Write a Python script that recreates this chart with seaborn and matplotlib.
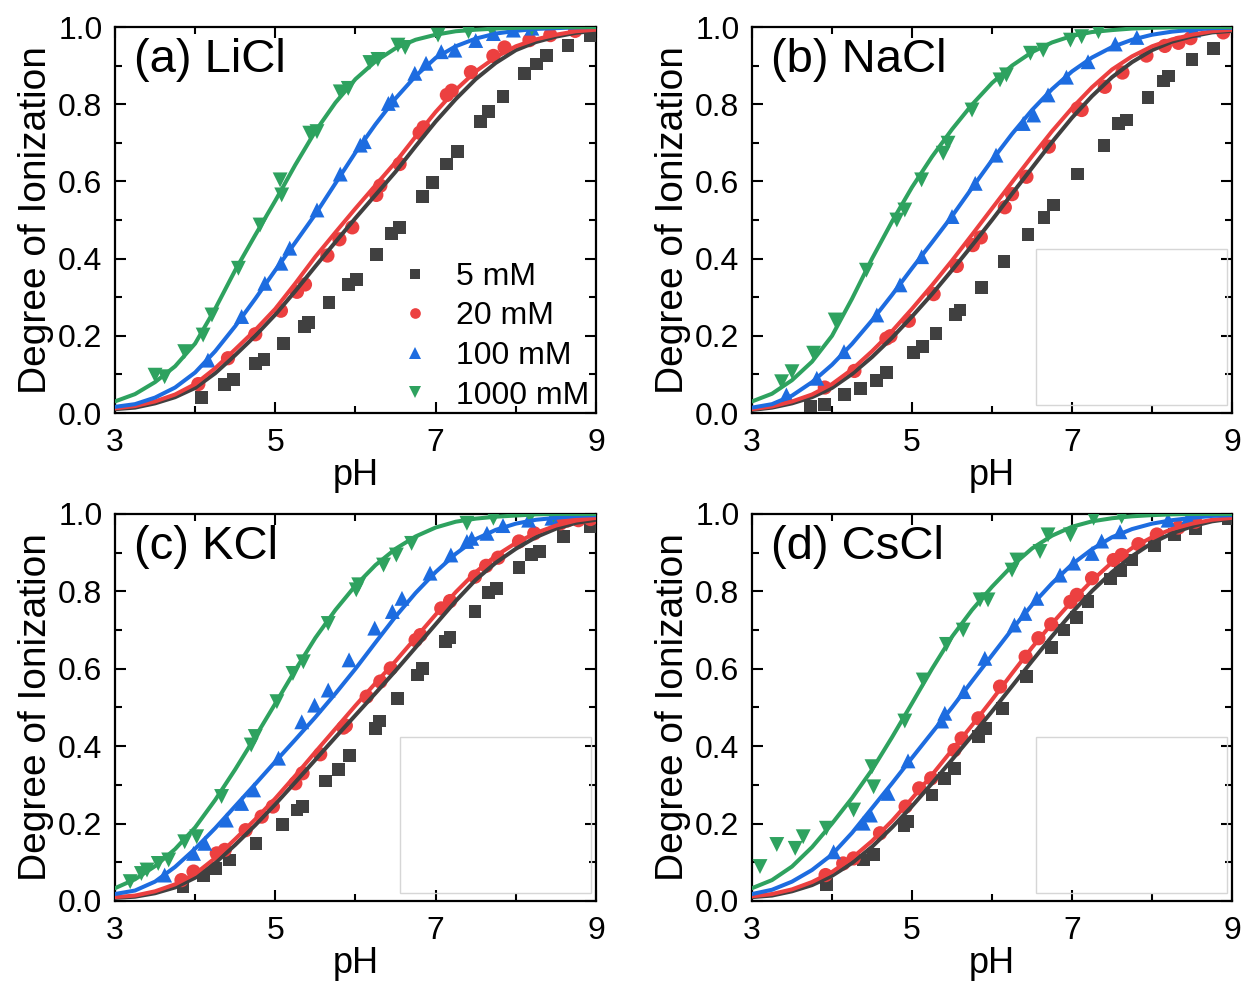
import numpy as np
import pandas as pd
import seaborn as sns
from matplotlib import pyplot as plt
from matplotlib.patches import Rectangle
from matplotlib.ticker import FixedLocator, MultipleLocator, FormatStrFormatter


CONCS = ['5 mM', '20 mM', '100 mM', '1000 mM']
COLORS = {'5 mM': '#404040', '20 mM': '#ec4040', '100 mM': '#1d6ce0', '1000 mM': '#2ea25f'}
MARKERS = {'5 mM': 's', '20 mM': 'o', '100 mM': '^', '1000 mM': 'v'}
SIZES = {'5 mM': 85, '20 mM': 105, '100 mM': 115, '1000 mM': 115}

SALTS = ['(a) LiCl', '(b) NaCl', '(c) KCl', '(d) CsCl']

# pH grid for the fitted curves
FIT_PH = [3.0, 3.25, 3.5, 3.75, 4.0, 4.25, 4.5, 4.75, 5.0, 5.25, 5.5, 5.75, 6.0,
          6.25, 6.5, 6.75, 7.0, 7.25, 7.5, 7.75, 8.0, 8.25, 8.5, 8.75, 9.0]

# ---- (a) LiCl ----
a5_ph = [4.08, 4.37, 4.48, 4.75, 4.86, 5.10, 5.36, 5.41, 5.67, 5.91, 6.01, 6.26, 6.45, 6.55, 6.84, 6.96, 7.14, 7.27, 7.56, 7.66, 7.84, 8.11, 8.26, 8.38, 8.65, 8.93]
a5_y = [0.04, 0.073, 0.087, 0.129, 0.139, 0.18, 0.225, 0.234, 0.287, 0.333, 0.346, 0.411, 0.465, 0.481, 0.56, 0.598, 0.645, 0.677, 0.755, 0.781, 0.821, 0.88, 0.904, 0.926, 0.952, 0.979]
a20_ph = [4.04, 4.41, 4.75, 5.07, 5.27, 5.37, 5.65, 5.80, 5.96, 6.26, 6.31, 6.55, 6.80, 6.85, 7.14, 7.20, 7.44, 7.72, 7.86, 8.17, 8.43, 8.74]
a20_y = [0.075, 0.142, 0.204, 0.265, 0.314, 0.333, 0.408, 0.45, 0.481, 0.565, 0.589, 0.645, 0.726, 0.74, 0.824, 0.835, 0.883, 0.925, 0.947, 0.966, 0.979, 0.99]
a100_ph = [4.16, 4.58, 4.87, 5.07, 5.18, 5.52, 5.81, 6.06, 6.11, 6.41, 6.46, 6.74, 6.88, 7.07, 7.24, 7.50, 7.72, 7.97, 8.20]
a100_y = [0.137, 0.25, 0.336, 0.388, 0.427, 0.526, 0.619, 0.694, 0.703, 0.802, 0.811, 0.88, 0.906, 0.936, 0.94, 0.965, 0.983, 0.992, 0.997]
a1000_ph = [3.50, 3.62, 3.87, 4.10, 4.21, 4.54, 4.81, 5.06, 5.08, 5.43, 5.52, 5.81, 5.91, 6.18, 6.28, 6.53, 6.62, 7.03, 7.41, 7.70, 8.20]
a1000_y = [0.098, 0.094, 0.159, 0.202, 0.254, 0.375, 0.487, 0.604, 0.565, 0.725, 0.729, 0.832, 0.841, 0.908, 0.916, 0.953, 0.947, 0.979, 0.988, 0.992, 0.997]
a5_fit = [0.01, 0.014, 0.025, 0.041, 0.065, 0.103, 0.15, 0.20, 0.255, 0.316, 0.38, 0.443, 0.505, 0.565, 0.625, 0.691, 0.755, 0.813, 0.865, 0.907, 0.94, 0.961, 0.975, 0.985, 0.99]
a20_fit = [0.012, 0.018, 0.03, 0.048, 0.075, 0.116, 0.165, 0.215, 0.27, 0.336, 0.405, 0.468, 0.53, 0.59, 0.65, 0.716, 0.78, 0.837, 0.885, 0.922, 0.95, 0.968, 0.98, 0.989, 0.993]
a100_fit = [0.016, 0.023, 0.04, 0.066, 0.105, 0.16, 0.225, 0.296, 0.37, 0.442, 0.515, 0.595, 0.675, 0.748, 0.815, 0.873, 0.92, 0.95, 0.97, 0.983, 0.99, 0.995, 0.997, 0.999, 1.0]
a1000_fit = [0.03, 0.049, 0.08, 0.121, 0.18, 0.27, 0.37, 0.461, 0.55, 0.643, 0.73, 0.804, 0.865, 0.911, 0.945, 0.967, 0.98, 0.989, 0.993, 0.996, 0.998, 0.999, 1.0, 1.0, 1.0]

# ---- (b) NaCl ----
b5_ph = [3.73, 3.91, 4.16, 4.36, 4.56, 4.68, 5.02, 5.13, 5.30, 5.54, 5.60, 5.87, 6.15, 6.45, 6.65, 6.77, 7.07, 7.40, 7.58, 7.68, 7.95, 8.14, 8.21, 8.50, 8.77]
b5_y = [0.018, 0.023, 0.047, 0.064, 0.085, 0.104, 0.156, 0.172, 0.206, 0.256, 0.267, 0.326, 0.392, 0.463, 0.507, 0.539, 0.619, 0.692, 0.749, 0.759, 0.818, 0.86, 0.873, 0.916, 0.945]
b20_ph = [3.91, 4.28, 4.68, 4.73, 4.96, 5.27, 5.56, 5.76, 5.86, 6.16, 6.25, 6.43, 6.71, 7.07, 7.12, 7.41, 7.63, 7.93, 8.16, 8.33, 8.48, 8.89]
b20_y = [0.066, 0.109, 0.193, 0.199, 0.239, 0.308, 0.381, 0.435, 0.455, 0.533, 0.567, 0.612, 0.69, 0.789, 0.785, 0.845, 0.882, 0.926, 0.951, 0.959, 0.971, 0.986]
b100_ph = [3.43, 3.81, 4.15, 4.56, 4.85, 5.12, 5.50, 5.79, 6.05, 6.39, 6.52, 6.70, 6.93, 7.20, 7.54, 7.81, 8.52]
b100_y = [0.047, 0.09, 0.159, 0.254, 0.332, 0.405, 0.509, 0.595, 0.668, 0.75, 0.772, 0.824, 0.87, 0.91, 0.956, 0.973, 0.992]
b1000_ph = [3.37, 3.50, 3.77, 4.04, 4.43, 4.81, 4.91, 5.12, 5.39, 5.45, 5.75, 6.10, 6.18, 6.48, 6.64, 6.98, 7.12, 7.33]
b1000_y = [0.081, 0.107, 0.155, 0.241, 0.37, 0.5, 0.526, 0.604, 0.673, 0.699, 0.785, 0.863, 0.876, 0.932, 0.94, 0.966, 0.975, 0.988]
b5_fit = [0.008, 0.014, 0.025, 0.041, 0.065, 0.101, 0.145, 0.195, 0.25, 0.308, 0.37, 0.434, 0.50, 0.568, 0.635, 0.702, 0.765, 0.821, 0.87, 0.909, 0.94, 0.962, 0.976, 0.986, 0.99]
b20_fit = [0.01, 0.017, 0.03, 0.048, 0.075, 0.113, 0.16, 0.212, 0.27, 0.331, 0.395, 0.462, 0.53, 0.598, 0.665, 0.73, 0.79, 0.844, 0.89, 0.924, 0.95, 0.968, 0.98, 0.989, 0.993]
b100_fit = [0.014, 0.023, 0.045, 0.08, 0.125, 0.179, 0.24, 0.306, 0.375, 0.442, 0.51, 0.583, 0.655, 0.723, 0.785, 0.839, 0.885, 0.921, 0.948, 0.967, 0.98, 0.988, 0.993, 0.997, 0.998]
b1000_fit = [0.03, 0.05, 0.085, 0.133, 0.2, 0.296, 0.4, 0.496, 0.585, 0.664, 0.735, 0.799, 0.855, 0.90, 0.935, 0.96, 0.977, 0.987, 0.992, 0.996, 0.998, 0.999, 1.0, 1.0, 1.0]

# ---- (c) KCl ----
c5_ph = [3.85, 4.10, 4.26, 4.43, 4.76, 5.09, 5.27, 5.34, 5.63, 5.79, 5.93, 6.25, 6.30, 6.52, 6.77, 6.84, 7.12, 7.18, 7.49, 7.66, 7.76, 8.04, 8.20, 8.30, 8.59, 8.93]
c5_y = [0.037, 0.065, 0.084, 0.106, 0.149, 0.198, 0.235, 0.244, 0.31, 0.34, 0.376, 0.446, 0.465, 0.524, 0.584, 0.601, 0.67, 0.68, 0.748, 0.798, 0.808, 0.861, 0.896, 0.904, 0.941, 0.967]
c20_ph = [3.83, 3.98, 4.27, 4.37, 4.63, 4.83, 4.97, 5.25, 5.34, 5.56, 5.85, 5.88, 6.14, 6.31, 6.44, 6.75, 6.81, 7.07, 7.18, 7.49, 7.63, 7.78, 8.04, 8.23, 8.56, 8.64, 8.78, 8.93]
c20_y = [0.054, 0.076, 0.123, 0.132, 0.183, 0.218, 0.244, 0.304, 0.33, 0.379, 0.448, 0.453, 0.528, 0.567, 0.601, 0.674, 0.687, 0.756, 0.775, 0.838, 0.866, 0.887, 0.929, 0.95, 0.976, 0.983, 0.984, 0.987]
c100_ph = [3.62, 3.98, 4.12, 4.39, 4.58, 4.73, 5.04, 5.33, 5.49, 5.66, 5.92, 6.24, 6.46, 6.58, 6.93, 7.19, 7.39, 7.45, 7.64, 7.84, 8.16, 8.45]
c100_y = [0.067, 0.123, 0.149, 0.209, 0.252, 0.287, 0.369, 0.463, 0.506, 0.545, 0.623, 0.705, 0.748, 0.782, 0.847, 0.894, 0.929, 0.937, 0.95, 0.97, 0.984, 0.989]
c1000_ph = [3.19, 3.33, 3.40, 3.54, 3.67, 3.87, 4.02, 4.33, 4.70, 4.75, 5.02, 5.22, 5.35, 5.66, 6.01, 6.04, 6.35, 6.51, 6.70, 7.39, 7.72, 8.18, 8.47]
c1000_y = [0.05, 0.071, 0.08, 0.097, 0.106, 0.153, 0.166, 0.27, 0.403, 0.425, 0.515, 0.588, 0.618, 0.717, 0.804, 0.817, 0.868, 0.894, 0.924, 0.976, 0.989, 0.993, 0.997]
c5_fit = [0.008, 0.011, 0.02, 0.035, 0.06, 0.098, 0.145, 0.196, 0.25, 0.307, 0.365, 0.423, 0.48, 0.537, 0.595, 0.655, 0.715, 0.775, 0.83, 0.874, 0.91, 0.94, 0.962, 0.977, 0.985]
c20_fit = [0.01, 0.014, 0.025, 0.043, 0.07, 0.111, 0.16, 0.211, 0.265, 0.324, 0.385, 0.445, 0.505, 0.563, 0.62, 0.68, 0.74, 0.798, 0.85, 0.892, 0.925, 0.951, 0.97, 0.983, 0.99]
c100_fit = [0.018, 0.027, 0.05, 0.088, 0.135, 0.188, 0.245, 0.302, 0.36, 0.417, 0.475, 0.536, 0.60, 0.668, 0.735, 0.796, 0.85, 0.897, 0.935, 0.959, 0.975, 0.985, 0.99, 0.995, 0.997]
c1000_fit = [0.033, 0.056, 0.09, 0.134, 0.19, 0.261, 0.34, 0.424, 0.51, 0.597, 0.68, 0.752, 0.815, 0.868, 0.91, 0.942, 0.965, 0.98, 0.988, 0.993, 0.996, 0.999, 1.0, 1.0, 1.0]

# ---- (d) CsCl ----
d5_ph = [3.93, 4.39, 4.52, 4.90, 4.95, 5.25, 5.41, 5.53, 5.83, 5.92, 6.13, 6.43, 6.74, 6.90, 7.06, 7.20, 7.48, 7.61, 7.75, 8.03, 8.28, 8.54, 8.95]
d5_y = [0.043, 0.106, 0.121, 0.196, 0.205, 0.274, 0.317, 0.343, 0.425, 0.446, 0.498, 0.58, 0.655, 0.70, 0.732, 0.773, 0.832, 0.853, 0.881, 0.918, 0.946, 0.961, 0.987]
d20_ph = [3.92, 4.14, 4.27, 4.60, 4.92, 5.09, 5.24, 5.53, 5.62, 5.83, 6.10, 6.42, 6.58, 6.74, 6.98, 7.06, 7.25, 7.52, 7.62, 7.83, 8.06, 8.33, 8.54]
d20_y = [0.067, 0.097, 0.11, 0.175, 0.244, 0.291, 0.317, 0.39, 0.42, 0.472, 0.554, 0.631, 0.679, 0.715, 0.773, 0.791, 0.834, 0.881, 0.894, 0.922, 0.947, 0.965, 0.98]
d100_ph = [4.02, 4.39, 4.48, 4.70, 4.95, 5.37, 5.41, 5.65, 5.91, 6.28, 6.41, 6.56, 6.85, 7.02, 7.25, 7.37, 7.60, 8.20, 8.45]
d100_y = [0.127, 0.201, 0.222, 0.278, 0.362, 0.465, 0.485, 0.541, 0.627, 0.713, 0.743, 0.782, 0.842, 0.873, 0.898, 0.93, 0.954, 0.984, 0.989]
d1000_ph = [3.10, 3.31, 3.54, 3.64, 3.93, 4.27, 4.52, 4.50, 4.91, 5.14, 5.43, 5.64, 5.85, 5.95, 6.25, 6.31, 6.60, 6.70, 6.98, 7.27, 7.62]
d1000_y = [0.089, 0.146, 0.136, 0.166, 0.188, 0.235, 0.295, 0.347, 0.465, 0.571, 0.663, 0.70, 0.778, 0.778, 0.855, 0.881, 0.903, 0.946, 0.946, 0.989, 0.993]
d5_fit = [0.01, 0.014, 0.025, 0.041, 0.065, 0.098, 0.14, 0.19, 0.245, 0.304, 0.365, 0.427, 0.49, 0.555, 0.62, 0.684, 0.745, 0.801, 0.85, 0.891, 0.925, 0.95, 0.968, 0.981, 0.988]
d20_fit = [0.012, 0.018, 0.03, 0.049, 0.075, 0.111, 0.155, 0.207, 0.265, 0.326, 0.39, 0.454, 0.52, 0.588, 0.655, 0.717, 0.775, 0.828, 0.875, 0.912, 0.94, 0.961, 0.975, 0.985, 0.99]
d100_fit = [0.018, 0.029, 0.05, 0.08, 0.12, 0.176, 0.24, 0.304, 0.37, 0.435, 0.5, 0.568, 0.635, 0.702, 0.765, 0.821, 0.87, 0.909, 0.94, 0.961, 0.975, 0.984, 0.99, 0.995, 0.997]
d1000_fit = [0.033, 0.054, 0.089, 0.139, 0.2, 0.266, 0.339, 0.423, 0.511, 0.60, 0.683, 0.752, 0.812, 0.866, 0.911, 0.944, 0.967, 0.981, 0.989, 0.994, 0.997, 0.999, 1.0, 1.0, 1.0]

PANELS = [
    ([(a5_ph, a5_y), (a20_ph, a20_y), (a100_ph, a100_y), (a1000_ph, a1000_y)], [a5_fit, a20_fit, a100_fit, a1000_fit]),
    ([(b5_ph, b5_y), (b20_ph, b20_y), (b100_ph, b100_y), (b1000_ph, b1000_y)], [b5_fit, b20_fit, b100_fit, b1000_fit]),
    ([(c5_ph, c5_y), (c20_ph, c20_y), (c100_ph, c100_y), (c1000_ph, c1000_y)], [c5_fit, c20_fit, c100_fit, c1000_fit]),
    ([(d5_ph, d5_y), (d20_ph, d20_y), (d100_ph, d100_y), (d1000_ph, d1000_y)], [d5_fit, d20_fit, d100_fit, d1000_fit]),
]


def panel_frames(points, fits):
    """
    Build long-form tables of the measured points and fitted curves for one panel.
    """
    pts = pd.concat([pd.DataFrame({'pH': ph, 'alpha': y, 'conc': c})
                     for (ph, y), c in zip(points, CONCS)], ignore_index=True)
    fit = pd.concat([pd.DataFrame({'pH': FIT_PH, 'alpha': f, 'conc': c})
                     for f, c in zip(fits, CONCS)], ignore_index=True)
    return pts, fit


def style_axis(ax):
    ax.set_xlim(3, 9)
    ax.set_ylim(0, 1)
    ax.xaxis.set_major_locator(FixedLocator([3, 5, 7, 9]))
    ax.xaxis.set_minor_locator(FixedLocator([4, 6, 8]))
    ax.yaxis.set_major_locator(MultipleLocator(0.2))
    ax.yaxis.set_minor_locator(MultipleLocator(0.1))
    ax.yaxis.set_major_formatter(FormatStrFormatter('%.1f'))
    ax.tick_params(which='both', direction='in', top=True, right=True, width=1.5, colors='black')
    ax.tick_params(which='major', length=8, labelsize=23)
    ax.tick_params(which='minor', length=5)
    ax.tick_params(axis='x', which='major', pad=11)
    ax.tick_params(axis='y', which='major', pad=9)
    for sp in ax.spines.values():
        sp.set_linewidth(1.6)
        sp.set_color('black')
        sp.set_visible(True)
    ax.set_xlabel('pH', fontsize=26, labelpad=0)
    ax.set_ylabel('Degree of Ionization', fontsize=28, labelpad=3)


sns.set_style('ticks')
plt.rcParams['font.family'] = ['Liberation Sans', 'DejaVu Sans']
plt.rcParams['text.color'] = 'black'
plt.rcParams['axes.labelcolor'] = 'black'

fig = plt.figure(figsize=(12.44, 9.82), dpi=100)
positions = [
    [0.0924, 0.5794, 0.3867, 0.3931],
    [0.6045, 0.5794, 0.3859, 0.3931],
    [0.0924, 0.0825, 0.3867, 0.3941],
    [0.6045, 0.0825, 0.3859, 0.3941],
]

for i, ((points, fits), title, pos) in enumerate(zip(PANELS, SALTS, positions)):
    ax = fig.add_axes(pos)
    pts, fit = panel_frames(points, fits)
    sns.scatterplot(data=pts, x='pH', y='alpha', hue='conc', style='conc', size='conc',
                    hue_order=CONCS, style_order=CONCS, size_order=CONCS,
                    palette=COLORS, markers=MARKERS, sizes=SIZES,
                    linewidth=0, legend=(i == 0), ax=ax, zorder=3)
    sns.lineplot(data=fit, x='pH', y='alpha', hue='conc', hue_order=CONCS, palette=COLORS,
                 linewidth=2.9, legend=False, ax=ax, estimator=None, zorder=4)
    style_axis(ax)
    ax.text(0.04, 0.915, title, transform=ax.transAxes, fontsize=34, va='center', ha='left',
            color='black')

    if i == 0:
        handles, labels = ax.get_legend_handles_labels()
        keep = [(h, l) for h, l in zip(handles, labels) if l in CONCS]
        ax.legend([h for h, _ in keep], [l for _, l in keep], loc='lower right',
                  bbox_to_anchor=(1.02, -0.035), frameon=False, fontsize=23,
                  markerscale=0.75, handletextpad=0.5, labelspacing=0.3,
                  borderaxespad=0.1, handlelength=1.6, labelcolor='black')
    else:
        # empty legend frame left in the lower right corner
        ax.add_patch(Rectangle((0.592, 0.02), 0.397, 0.405, transform=ax.transAxes,
                               fill=False, edgecolor='#d6d6d6', linewidth=1.0, zorder=1))

fig.savefig('out.png', dpi=100)
